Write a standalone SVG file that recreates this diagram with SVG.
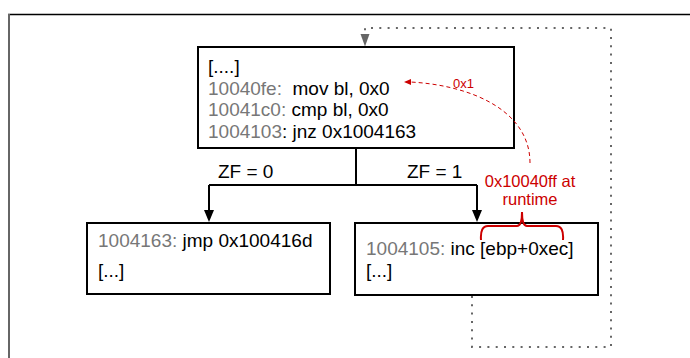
<svg xmlns="http://www.w3.org/2000/svg" width="690" height="358" viewBox="0 0 690 358">
<defs>
<style>
text{font-family:"Liberation Sans",Arial,sans-serif;font-size:19px;fill:#000;white-space:pre}
.a{fill:#777}
.r{fill:#cc0000;font-size:16.5px}
.box{fill:#fff;stroke:#000;stroke-width:2}
.flow{fill:none;stroke:#000;stroke-width:2}
.dot{fill:none;stroke:#666;stroke-width:2;stroke-dasharray:2 6.3}
</style>
<marker id="ah" viewBox="0 0 10 12" refX="5" refY="12" markerWidth="10" markerHeight="12" markerUnits="userSpaceOnUse" orient="auto-start-reverse"><path d="M0,0L10,0L5,12Z" fill="#000"/></marker>
</defs>
<rect width="690" height="358" fill="#fff"/>
<path d="M8,14.5H690" stroke="#000" stroke-width="1.5"/>
<path d="M9,14V358" stroke="#666" stroke-width="2"/>
<g id="connectors">
<path class="flow" d="M356,148V185"/>
<path class="flow" d="M209,185H477"/>
<path d="M209,185V211" class="flow"/>
<path d="M204,210L214,210L209,222Z" fill="#000"/>
<path d="M477,185V211" class="flow"/>
<path d="M472,210L482,210L477,222Z" fill="#000"/>
<text x="218" y="178">ZF = 0</text>
<text x="407" y="178">ZF = 1</text>
<path class="dot" d="M472,296V347H611V28H365V34"/>
<path d="M360.5,34L369.5,34L365,46.5Z" fill="#666"/>
</g>
<g id="node-top">
<rect class="box" x="198" y="47" width="316" height="101"/>
<text x="208" y="73">[....]</text>
<text x="208" y="94.5"><tspan class="a">10040fe:</tspan>  mov bl, 0x0</text>
<text x="208" y="116"><tspan class="a">10041c0:</tspan> cmp bl, 0x0</text>
<text x="208" y="138"><tspan class="a">1004103</tspan>: jnz 0x1004163</text>
</g>
<g id="node-left">
<rect class="box" x="87" y="223" width="243" height="71"/>
<text x="98" y="247"><tspan class="a">1004163:</tspan> jmp 0x100416d</text>
<text x="98" y="277">[...]</text>
</g>
<g id="node-right">
<rect class="box" x="355" y="223" width="243" height="72"/>
<text x="366" y="255"><tspan class="a">1004105:</tspan> inc [ebp+0xec]</text>
<text x="366" y="277">[...]</text>
</g>
<g id="annotation">
<path d="M481,240Q480,226 488,226H517Q522,226 522,212Q522,226 527,226H556Q564,226 563,240" fill="none" stroke="#cc0000" stroke-width="2"/>
<text class="r" x="530" y="187" text-anchor="middle">0x10040ff at</text>
<text class="r" x="530" y="205" text-anchor="middle">runtime</text>
<path d="M530,163C530,110 470,85 410,82" fill="none" stroke="#cc0000" stroke-width="1" stroke-dasharray="4 3"/>
<path d="M404,82L411,79L411,85Z" fill="#cc0000"/>
<text class="r" x="453" y="88" style="font-size:13px">0x1</text>
</g>
</svg>
